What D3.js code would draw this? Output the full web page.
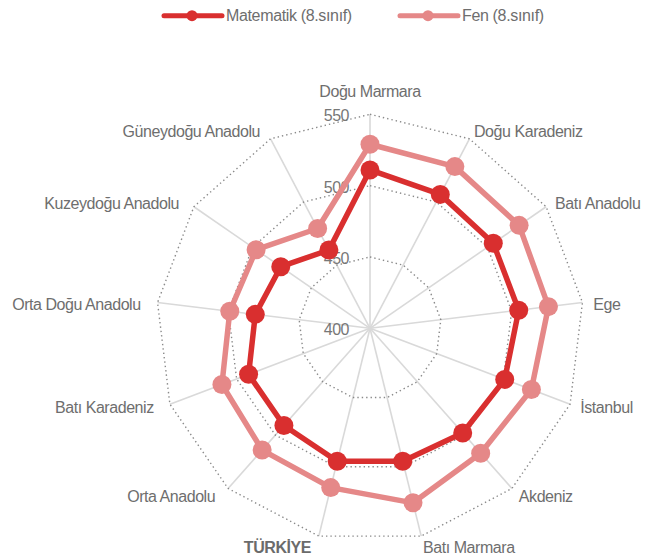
<!DOCTYPE html>
<html>
<head>
<meta charset="utf-8">
<script src="https://cdn.jsdelivr.net/npm/d3@7"></script>
<style>
  html, body { margin: 0; padding: 0; background: #fff; }
  svg { display: block; font-family: "Liberation Sans", Arial, sans-serif; }
</style>
</head>
<body>
<svg id="chart" width="651" height="558"></svg>
<script>
// Regions, clockwise from the top axis
const regions = [
  "Doğu Marmara", "Doğu Karadeniz", "Batı Anadolu", "Ege", "İstanbul",
  "Akdeniz", "Batı Marmara", "TÜRKİYE", "Orta Anadolu", "Batı Karadeniz",
  "Orta Doğu Anadolu", "Kuzeydoğu Anadolu", "Güneydoğu Anadolu"
];
// 8th grade average scores
const mathScores    = [511, 506, 505, 505, 501, 498, 496, 496, 491, 491, 481, 476, 462];
const scienceScores = [529, 528, 527, 526, 521, 517, 526, 515, 514, 511, 499, 497, 479];
const seriesNames   = ["Matematik (8.sınıf)", "Fen (8.sınıf)"];
const radialTicks   = [400, 450, 500, 550];

const colors = ["#d92f2f", "#e58888"];

const svg = d3.select("#chart");
const cx = 370, cy = 328.3, R = 214;

const r = d3.scaleLinear().domain([400, 550]).range([0, R]);
const angle = d3.scalePoint()
  .domain(d3.range(regions.length + 1))
  .range([0, 2 * Math.PI]);
const a = i => angle(i);

const g = svg.append("g").attr("transform", `translate(${cx},${cy})`);

// spokes
g.append("g").selectAll("line").data(regions).join("line")
  .attr("x1", 0).attr("y1", 0)
  .attr("x2", (d, i) => R * Math.sin(a(i)))
  .attr("y2", (d, i) => -R * Math.cos(a(i)))
  .attr("stroke", "#d9d9d9").attr("stroke-width", 1.6);

// dotted polygon grid
const ringLine = d3.lineRadial()
  .angle((d, i) => a(i))
  .radius(d => r(d))
  .curve(d3.curveLinearClosed);
g.append("g").selectAll("path").data(radialTicks.filter(t => t > 400)).join("path")
  .attr("d", t => ringLine(regions.map(() => t)))
  .attr("fill", "none")
  .attr("stroke", "#8a8a8a")
  .attr("stroke-width", 1.4)
  .attr("stroke-dasharray", "1.4,3");

// radial tick labels
g.append("g").selectAll("text").data(radialTicks).join("text")
  .attr("x", -21)
  .attr("y", t => -r(t) + 7)
  .attr("text-anchor", "end")
  .attr("font-size", 16)
  .attr("letter-spacing", -0.5)
  .attr("fill", "#777")
  .text(t => t);

// category labels
g.append("g").selectAll("text").data(regions).join("text")
  .each(function(d, i) {
    const s = Math.sin(a(i)), c = Math.cos(a(i));
    const rr = R + 12;
    let anchor = "middle", dx = 0, dy;
    if (s > 0.1) { anchor = "start"; dx = -1; }
    else if (s < -0.1) { anchor = "end"; dx = -5; }
    if (anchor === "middle" && c > 0) dy = -5;
    else dy = c > 0 ? 9 : 5;
    d3.select(this)
      .attr("x", rr * s + dx)
      .attr("y", -rr * c + dy)
      .attr("text-anchor", anchor);
  })
  .attr("font-size", 16)
  .attr("letter-spacing", -0.45)
  .attr("fill", d => d === "TÜRKİYE" ? "#6b6b6b" : "#6e6e6e")
  .attr("font-weight", d => d === "TÜRKİYE" ? "bold" : "normal")
  .text(d => d);

// series
const seriesLine = d3.lineRadial()
  .angle((d, i) => a(i))
  .radius(d => r(d))
  .curve(d3.curveLinearClosed);

[mathScores, scienceScores].forEach((vals, k) => {
  const sg = g.append("g");
  sg.append("path")
    .attr("d", seriesLine(vals))
    .attr("fill", "none")
    .attr("stroke", colors[k])
    .attr("stroke-width", 5.5)
    .attr("stroke-linejoin", "round");
  sg.selectAll("circle").data(vals).join("circle")
    .attr("cx", (v, i) => r(v) * Math.sin(a(i)))
    .attr("cy", (v, i) => -r(v) * Math.cos(a(i)))
    .attr("r", 9.5)
    .attr("fill", colors[k]);
});

// legend
const legendX = [164, 400];
const lg = svg.append("g").selectAll("g").data(seriesNames).join("g")
  .attr("transform", (d, i) => `translate(${legendX[i]},15.7)`);
lg.append("line")
  .attr("x1", 0).attr("x2", 58).attr("y1", 0).attr("y2", 0)
  .attr("stroke", (d, i) => colors[i]).attr("stroke-width", 5)
  .attr("stroke-linecap", "round");
lg.append("circle").attr("cx", 28).attr("cy", 0).attr("r", 5.5)
  .attr("fill", (d, i) => colors[i]);
lg.append("text")
  .attr("x", 62).attr("y", 5.6)
  .attr("font-size", 16)
  .attr("letter-spacing", -0.35)
  .attr("fill", "#6e6e6e")
  .text(d => d);
</script>
</body>
</html>
